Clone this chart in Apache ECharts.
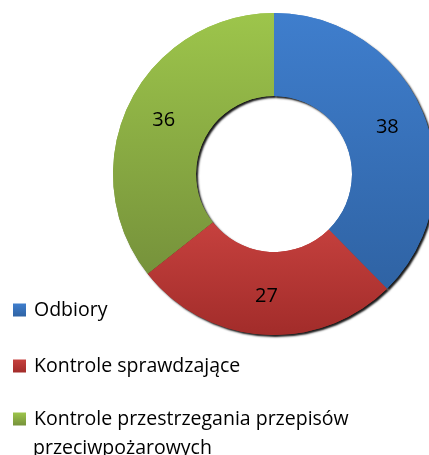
<!DOCTYPE html>
<html><head><meta charset="utf-8">
<script src="https://cdn.jsdelivr.net/npm/echarts@6/dist/echarts.min.js"></script>
<style>html,body{margin:0;padding:0;background:#fff}#c{width:429px;height:455px}</style>
</head><body><div id="c"></div>
<script>
const categories = ['Odbiory', 'Kontrole sprawdzające', 'Kontrole przestrzegania przepisów przeciwpożarowych'];
const values = [38, 27, 36];
const legendFirstLines = ['Odbiory', 'Kontrole sprawdzające', 'Kontrole przestrzegania przepisów'];
const legendSecondLine = 'przeciwpożarowych';

const FONT = 'Open Sans';
const grads = [['#3f7ecd', '#2f63a4'], ['#c6413e', '#a22c2a'], ['#9dc54b', '#76923b']];
function grad(c) {
  return {type: 'linear', x: 0, y: 0, x2: 0, y2: 1, colorStops: [{offset: 0, color: c[0]}, {offset: 1, color: c[1]}]};
}
const chart = echarts.init(document.getElementById('c'));
const legendTops = [298, 354, 407];
const pieData = categories.map((n, i) => ({name: n, value: values[i], itemStyle: {color: grad(grads[i])}}));
const pieBase = {type: 'pie', center: [274, 174], radius: [78, 161], startAngle: 90, clockwise: true,
  labelLine: {show: false}, emphasis: {disabled: true}, data: pieData};
chart.setOption({
  animation: false,
  legend: categories.map((name, i) => ({
    orient: 'vertical', left: 13, top: legendTops[i], data: [name],
    itemWidth: 13, itemHeight: 13, itemGap: 8, icon: 'rect', padding: 0,
    formatter: () => legendFirstLines[i],
    textStyle: {fontFamily: FONT, fontSize: 19.5, color: '#000', lineHeight: 24, padding: [0, 0, 0, 3]}
  })),
  graphic: [{
    type: 'text', left: 33, top: 436, silent: true,
    style: {text: legendSecondLine, fontFamily: FONT, fontSize: 19.5, fill: '#000', lineHeight: 24}
  }],
  series: [
    Object.assign({}, pieBase, {
      name: 'shadow', silent: true, label: {show: false},
      itemStyle: {shadowBlur: 2, shadowOffsetX: 2, shadowOffsetY: 2, shadowColor: 'rgba(0,0,0,0.9)'}
    }),
    Object.assign({}, pieBase, {
      name: 'main',
      label: {show: true, position: 'inside', fontFamily: FONT, fontSize: 20, color: '#000', formatter: '{c}'}
    })
  ]
});
</script></body></html>
